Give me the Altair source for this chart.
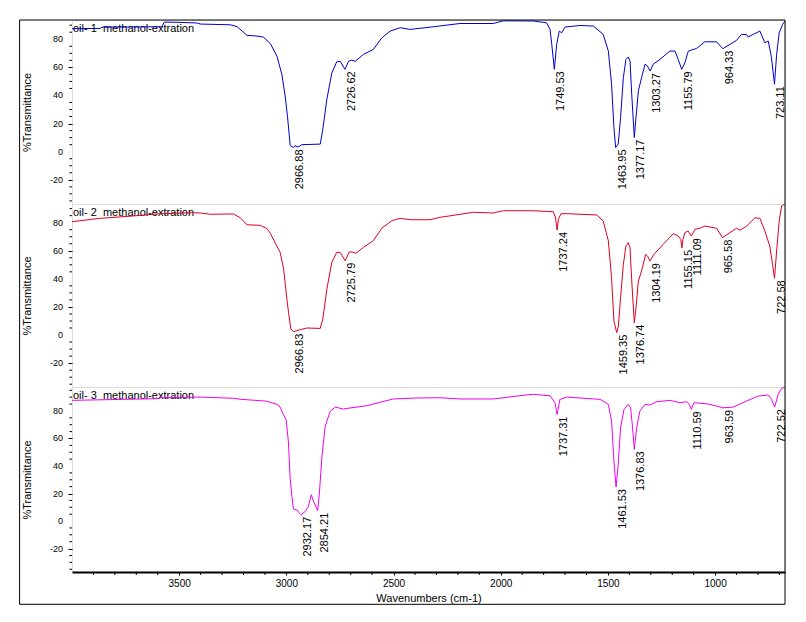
import altair as alt
import pandas as pd

# ---------------- data ----------------
wn1 = [4000, 3868, 3860, 3580, 3570, 3500, 3420, 3400, 3262, 3230, 3184, 3137, 3107, 3075, 3044, 3021,
       3006, 2995, 2982, 2967, 2960, 2945, 2928, 2842, 2830, 2811, 2788, 2765, 2749, 2727, 2710, 2695,
       2679, 2640, 2594, 2555, 2516, 2469, 2423, 2314, 2190, 2035, 1988, 1848, 1786, 1770, 1762, 1750,
       1739, 1727, 1716, 1700, 1630, 1568, 1522, 1498, 1483, 1472, 1464, 1452, 1441, 1428, 1416, 1405,
       1397, 1389, 1377, 1369, 1358, 1343, 1327, 1316, 1303, 1289, 1257, 1211, 1187, 1172, 1156, 1141,
       1125, 1086, 1048, 993, 964, 931, 900, 877, 853, 846, 822, 791, 768, 752, 737, 723, 713, 701, 685, 674]
t1 = [87.5, 87.7, 88.6, 88.9, 92.2, 92.0, 91.6, 90.8, 90.3, 89.0, 82.8, 82.3, 81.5, 77.0, 68.0, 55.0,
      40.0, 25.5, 4.3, 3.0, 4.3, 3.3, 5.0, 5.4, 16.0, 37.4, 56.0, 64.0, 64.3, 58.6, 64.3, 65.2,
      64.3, 69.3, 72.8, 81.0, 85.8, 88.2, 87.0, 88.9, 91.2, 91.2, 93.1, 93.0, 91.7, 87.0, 76.4, 58.6,
      76.4, 85.8, 84.6, 88.7, 89.8, 89.4, 83.5, 71.6, 48.0, 17.2, 3.0, 5.4, 24.3, 52.7, 65.7, 67.4,
      64.5, 40.9, 10.1, 24.3, 43.3, 52.7, 62.2, 61.0, 57.4, 62.2, 65.7, 71.6, 71.6, 65.7, 58.6, 63.3,
      71.6, 73.5, 78.2, 78.2, 73.3, 76.4, 79.2, 83.5, 83.3, 81.6, 83.5, 85.8, 77.5, 78.7, 66.9, 48.0, 69.3, 84.6, 90.6, 92.9]

wn2 = [4000, 3868, 3713, 3588, 3433, 3402, 3355, 3247, 3215, 3184, 3122, 3091, 3075, 3050, 3029, 3013,
       3006, 2998, 2990, 2979, 2967, 2936, 2904, 2842, 2830, 2811, 2788, 2765, 2749, 2726, 2706, 2690,
       2675, 2640, 2594, 2555, 2508, 2469, 2423, 2330, 2283, 2128, 2035, 1988, 1848, 1755, 1745, 1737,
       1731, 1719, 1692, 1552, 1522, 1498, 1483, 1472, 1459, 1451, 1441, 1428, 1416, 1405, 1397, 1388,
       1377, 1369, 1358, 1343, 1324, 1315, 1304, 1285, 1242, 1195, 1172, 1160, 1155, 1150, 1141, 1126,
       1111, 1094, 1071, 1048, 993, 966, 931, 900, 884, 853, 814, 791, 768, 745, 732, 723, 713, 701, 690, 674]
t2 = [80.7, 83.1, 84.8, 86.4, 87.1, 86.9, 86.0, 86.2, 83.5, 78.5, 78.1, 75.8, 72.5, 65.0, 58.9, 47.0,
      37.5, 26.0, 16.2, 4.3, 2.4, 3.8, 5.0, 4.7, 11.4, 32.8, 51.8, 58.9, 58.9, 52.9, 59.3, 59.0,
      58.2, 62.5, 67.2, 76.0, 81.4, 83.1, 82.1, 82.1, 83.8, 87.4, 86.9, 88.5, 88.5, 87.8, 84.0, 74.8,
      82.4, 86.4, 86.4, 85.5, 81.2, 67.0, 40.8, 10.0, 1.7, 6.4, 26.6, 50.3, 63.4, 65.8, 62.2, 36.1,
      8.8, 19.5, 38.5, 45.6, 57.5, 56.3, 52.7, 57.5, 64.6, 72.2, 70.5, 68.0, 62.0, 68.0, 72.9, 74.1,
      70.5, 75.3, 76.0, 77.6, 76.0, 69.3, 72.9, 76.0, 74.6, 77.6, 83.5, 83.1, 74.1, 63.4, 50.3, 40.4, 59.8, 81.2, 91.9, 93.5]

wn3 = [4000, 3604, 3590, 3402, 3247, 3215, 3091, 3044, 3029, 3016, 3001, 2990, 2982, 2974, 2967, 2951,
       2940, 2932, 2912, 2897, 2884, 2873, 2854, 2846, 2834, 2819, 2796, 2772, 2734, 2710, 2625, 2563,
       2501, 2392, 2283, 2190, 2035, 1910, 1848, 1770, 1747, 1737, 1724, 1692, 1537, 1498, 1483, 1472,
       1462, 1452, 1441, 1425, 1405, 1394, 1385, 1377, 1366, 1351, 1327, 1304, 1273, 1211, 1164, 1133,
       1121, 1111, 1099, 1040, 993, 964, 916, 853, 799, 752, 737, 722, 706, 690, 674]
t3 = [87.7, 88.9, 89.6, 90.1, 89.2, 88.5, 87.1, 84.8, 82.8, 78.0, 73.6, 56.7, 30.0, 18.0, 8.7, 8.0,
      6.0, 4.6, 7.0, 10.7, 19.1, 14.3, 7.5, 20.3, 47.0, 68.8, 79.7, 82.8, 81.4, 82.0, 83.8, 86.3,
      88.7, 89.4, 89.6, 88.7, 88.7, 91.1, 92.1, 91.0, 86.0, 77.4, 88.4, 90.1, 88.4, 84.8, 72.7, 43.6,
      24.7, 41.2, 67.8, 81.2, 84.8, 82.3, 67.8, 52.1, 67.8, 79.9, 84.8, 84.3, 86.7, 87.7, 86.0, 86.7,
      85.0, 81.2, 86.0, 85.2, 83.6, 82.3, 82.8, 87.2, 90.8, 91.6, 88.4, 82.8, 92.1, 96.4, 97.4]

peaks1 = ["2966.88", "2726.62", "1749.53", "1463.95", "1377.17", "1303.27", "1155.79", "964.33", "723.11"]
peak_t1 = [3.0, 58.6, 58.6, 3.0, 10.1, 57.4, 58.6, 73.3, 48.0]
peaks2 = ["2966.83", "2725.79", "1737.24", "1459.35", "1376.74", "1304.19", "1155.15", "1111.09", "965.58", "722.58"]
peak_t2 = [2.4, 52.9, 74.8, 1.7, 8.8, 52.7, 62.0, 70.5, 69.3, 40.4]
peaks3 = ["2932.17", "2854.21", "1737.31", "1461.53", "1376.83", "1110.59", "963.59", "722.52"]
peak_t3 = [4.6, 7.5, 77.4, 24.7, 52.1, 81.2, 82.3, 82.8]

names = ["oil- 1\u00a0 methanol-extration", "oil- 2\u00a0 methanol-extration", "oil- 3\u00a0 methanol-extration"]
colors = ["#0000cc", "#dd0022", "#ee00ee"]
y_domains = [[-37.2, 93.7], [-37.0, 93.3], [-37.0, 97.4]]
heights = [184, 183, 185]
x_domain = [4000, 674]
x_major = [3500, 3000, 2500, 2000, 1500, 1000]
x_minor = [v for v in range(700, 4000, 100) if v % 500 != 0]
y_major = [-20, 0, 20, 40, 60, 80]
y_minor_all = [v for v in range(-35, 100, 5) if v % 20 != 0]

W = 713
FONT = "Liberation Sans"


def panel(wn, t, color, peaks, peak_t, name, ydom, h, bottom, above=0):
    df = pd.DataFrame({"wn": wn, "t": t})
    pk = pd.DataFrame({"wn": [float(p) for p in peaks], "t": peak_t, "lab": peaks})
    xscale = alt.Scale(domain=x_domain, nice=False, zero=False)
    yscale = alt.Scale(domain=ydom, nice=False, zero=False)
    if bottom:
        xaxis = alt.Axis(values=x_major, format="d", labelOverlap=False, labelFlush=False, grid=False,
                         tickSize=3, tickColor="black", labelPadding=3, labelFontSize=10,
                         labelColor="black", domainWidth=2, domainColor="black",
                         title="Wavenumbers (cm-1)", titleFontSize=11, titleFontWeight="normal",
                         titleColor="black", titleY=26, titleBaseline="middle")
        x = alt.X("wn:Q", scale=xscale, axis=xaxis)
    else:
        x = alt.X("wn:Q", scale=xscale, axis=None)
    yaxis = alt.Axis(values=y_major, labels=False, grid=False, domain=False,
                     tickSize=4, tickColor="black",
                     title="%Transmittance", titleFontSize=11, titleFontWeight="normal",
                     titleColor="black", titleX=-45, titleY=h / 2, titleBaseline="middle")
    y = alt.Y("t:Q", scale=yscale, axis=yaxis)

    line = alt.Chart(df).mark_line(color=color, strokeWidth=1, clip=True).encode(x=x, y=y)
    labels = alt.Chart(pk).mark_text(angle=270, align="right", baseline="middle", dx=-2, dy=7,
                                     fontSize=11, color="black", font=FONT).encode(
        x=alt.X("wn:Q", scale=xscale), y=alt.Y("t:Q", scale=yscale), text="lab:N")
    title = alt.Chart(pd.DataFrame({"n": [name]})).mark_text(
        align="left", baseline="top", fontSize=11, color="black", font=FONT).encode(
        x=alt.value(1), y=alt.value(2.5), text="n:N")
    ymin = pd.DataFrame({"v": [v for v in y_minor_all if ydom[0] <= v <= ydom[1]]})
    yminor = alt.Chart(ymin).mark_rule(color="black", strokeWidth=1).encode(
        y=alt.Y("v:Q", scale=yscale), x=alt.value(-2.5), x2=alt.value(0))
    ylab = pd.DataFrame({"v": y_major, "s": [str(v) for v in y_major]})
    ylabels = alt.Chart(ylab).mark_text(align="right", baseline="middle", fontSize=9,
                                        color="black", font=FONT).encode(
        y=alt.Y("v:Q", scale=yscale), x=alt.value(-9), text="s:N")
    layers = [title, line, labels, yminor, ylabels]
    if bottom:
        xmin = pd.DataFrame({"v": x_minor})
        xminor = alt.Chart(xmin).mark_rule(color="black", strokeWidth=1).encode(
            x=alt.X("v:Q", scale=xscale), y=alt.value(h), y2=alt.value(h + 3))
        frame = alt.Chart(pd.DataFrame({"f": [0]})).mark_rect(
            fillOpacity=0, stroke="black", strokeWidth=1).encode(
            x=alt.value(-52.4), x2=alt.value(W), y=alt.value(-above), y2=alt.value(h + 32.3))
        layers += [xminor, frame]
    return alt.layer(*layers).properties(width=W, height=h)


p1 = panel(wn1, t1, colors[0], peaks1, peak_t1, names[0], y_domains[0], heights[0], False)
p2 = panel(wn2, t2, colors[1], peaks2, peak_t2, names[1], y_domains[1], heights[1], False)
p3 = panel(wn3, t3, colors[2], peaks3, peak_t3, names[2], y_domains[2], heights[2], True,
           above=heights[0] + heights[1])

chart = alt.vconcat(p1, p2, p3, spacing=0, bounds="flush").properties(
    padding={"left": 10, "top": 11, "right": 5, "bottom": 5},
    background="white",
).configure_view(stroke="black", strokeWidth=1).configure(font=FONT)

chart.save("out.html", embed_options={"renderer": "svg", "actions": False})
